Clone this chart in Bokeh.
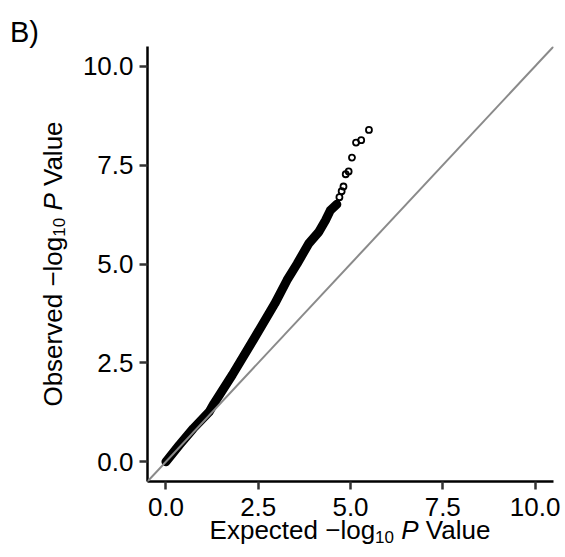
from bokeh.plotting import figure
from bokeh.models import FixedTicker, Slope, Range1d, Div
from bokeh.layouts import row, column
from bokeh.embed import file_html
from bokeh.resources import INLINE

# ---- data ----
expected_dense = [0.0, 0.36, 0.74, 1.17, 1.30, 1.80, 2.38, 2.95, 3.28, 3.55, 3.87, 4.14, 4.32, 4.45, 4.63]
observed_dense = [0.0, 0.42, 0.84, 1.26, 1.47, 2.20, 3.10, 4.00, 4.59, 5.00, 5.52, 5.81, 6.10, 6.35, 6.51]
expected_tail = [4.70, 4.76, 4.81, 4.87, 4.95, 5.04, 5.15, 5.29, 5.50]
observed_tail = [6.69, 6.84, 6.96, 7.27, 7.34, 7.69, 8.07, 8.13, 8.39]
tick_values = [0, 2.5, 5, 7.5, 10]
tick_labels = ["0.0", "2.5", "5.0", "7.5", "10.0"]
x_title_html = "Expected &minus;log<span style='font-size:17px;position:relative;top:4px'>10</span> <i>P</i> Value"
y_title_html = "Observed &minus;log<span style='font-size:17px;position:relative;top:3px'>10</span> <i>P</i> Value"
panel_tag = "B)"

FONT = "Liberation Sans"
LEFT_W = 75
P_W = 488
BOTTOM_BORDER = 47
P_H = 481 + BOTTOM_BORDER
BOT_H = 555 - P_H

p = figure(width=P_W, height=P_H, output_backend="svg", toolbar_location=None,
           x_range=Range1d(-0.5, 10.5), y_range=Range1d(-0.5, 10.5),
           min_border_left=72, min_border_right=10, min_border_top=46,
           min_border_bottom=BOTTOM_BORDER)
p.outline_line_color = None
p.xgrid.visible = False
p.ygrid.visible = False
p.background_fill_color = "white"
p.border_fill_color = None

for ax in (p.xaxis[0], p.yaxis[0]):
    ax.ticker = FixedTicker(ticks=tick_values)
    ax.major_label_overrides = {v: l for v, l in zip(tick_values, tick_labels)}
    ax.minor_tick_line_color = None
    ax.major_tick_in = 0
    ax.major_tick_out = 8
    ax.major_tick_line_color = "#333333"
    ax.major_tick_line_width = 2.5
    ax.axis_line_color = "black"
    ax.axis_line_width = 2.5
    ax.major_label_text_font = FONT
    ax.major_label_text_font_size = "26px"
    ax.major_label_text_color = "black"
p.xaxis[0].major_label_standoff = 8
p.yaxis[0].major_label_standoff = 6

# diagonal reference line
p.add_layout(Slope(gradient=1, y_intercept=0, line_color="#8a8a8a", line_width=2))

# dense part of the QQ curve (overlapping points)
p.line(expected_dense, observed_dense, line_color="black", line_width=9, line_cap="round", line_join="round")
# sparse tail of points
p.scatter(expected_tail, observed_tail, marker="circle", size=6, fill_color=None,
          line_color="black", line_width=1.8)

base = f"font-family:'{FONT}';color:black;white-space:nowrap;position:absolute;"

# left column: panel tag and rotated y title (baseline x = 61.5, centre y = 264)
left_html = (
    f"<div style='position:relative;width:{LEFT_W}px;height:{P_H}px;'>"
    f"<div style=\"{base}left:10px;top:17.5px;font-size:29px;line-height:29px;\">{panel_tag}</div>"
    f"<div style=\"{base}left:61.5px;top:242px;font-size:26px;line-height:26px;"
    f"transform-origin:0 22px;transform:rotate(-90deg) translateX(-50%);\">{y_title_html}</div>"
    f"</div>"
)
left_div = Div(text=left_html, width=LEFT_W, height=P_H, margin=0)

# bottom row: x title (centre x = 350, baseline y = 539)
bottom_html = (
    f"<div style='position:relative;width:{LEFT_W + P_W}px;height:{BOT_H}px;'>"
    f"<div style=\"{base}left:350px;top:{539 - 22 - P_H}px;font-size:26px;line-height:26px;"
    f"transform:translateX(-50%);\">{x_title_html}</div>"
    f"</div>"
)
bottom_div = Div(text=bottom_html, width=LEFT_W + P_W, height=BOT_H, margin=0)

layout = column(row(left_div, p, spacing=0), bottom_div, spacing=0)

open("out.html", "w").write(file_html(layout, INLINE))
